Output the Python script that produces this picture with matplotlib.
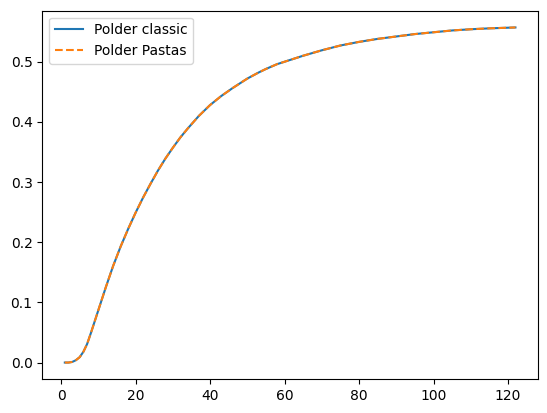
#!/usr/bin/env python3

import matplotlib
matplotlib.use('Agg')
import matplotlib.pyplot as plt

# step response
t = [1, 2, 3, 4, 5, 6, 7, 8, 9, 10, 11, 12, 13, 14, 15, 16, 18, 20, 22, 24,
     26, 28, 30, 32, 34, 37, 40, 43, 46, 50, 53, 55, 58, 60, 63, 65, 70, 75,
     80, 85, 90, 95, 100, 105, 110, 115, 122]
polder_classic = [0.0, 0.0, 0.001, 0.004, 0.009, 0.018, 0.031, 0.049, 0.068,
                  0.087, 0.106, 0.125, 0.143, 0.161, 0.177, 0.193, 0.222,
                  0.249, 0.274, 0.297, 0.319, 0.339, 0.357, 0.374, 0.389,
                  0.410, 0.428, 0.443, 0.456, 0.472, 0.482, 0.488, 0.496,
                  0.500, 0.506, 0.510, 0.519, 0.527, 0.533, 0.538, 0.542,
                  0.546, 0.549, 0.552, 0.554, 0.5555, 0.557]
polder_pastas = list(polder_classic)


def main():
    fig = plt.figure(figsize=(5.47, 4.13), dpi=100)
    ax = fig.add_axes([0.0773, 0.0816, 0.9062, 0.8925])
    ax.plot(t, polder_classic, label='Polder classic')
    ax.plot(t, polder_pastas, '--', label='Polder Pastas')
    ax.legend(loc='upper left')
    fig.savefig('out.png', dpi=100)


if __name__ == '__main__':
    main()
